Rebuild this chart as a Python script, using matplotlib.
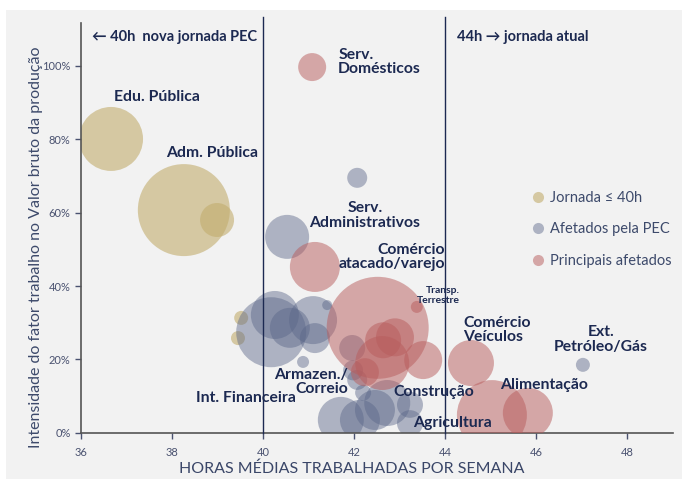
import matplotlib
matplotlib.use("Agg")
import matplotlib.pyplot as plt
from matplotlib.lines import Line2D
from matplotlib.patches import Rectangle

plt.rcParams['font.family'] = ['Lato', 'DejaVu Sans']

# Jornada <= 40h (horas, intensidade %, tamanho)
ouro_x = [36.66, 38.26, 38.99, 39.52, 39.45]
ouro_y = [80.1, 60.7, 58.0, 31.3, 25.8]
ouro_r = [32, 46, 17, 7, 7]

# Afetados pela PEC
cinza_x = [42.07, 40.53, 47.03, 40.18, 40.26, 40.59, 41.10, 41.14, 41.41, 40.88,
           41.96, 41.71, 42.13, 42.46, 42.73, 43.23, 43.23, 42.07, 41.98, 42.20]
cinza_y = [69.5, 53.4, 18.5, 27.4, 32.1, 28.6, 30.7, 25.8, 34.8, 19.3,
           23.1, 3.5, 3.5, 6.2, 8.1, 7.6, 2.6, 14.4, 17.0, 10.9]
cinza_r = [10, 22, 7, 35, 24, 20, 24, 15, 5, 6,
           13, 23, 20, 20, 23, 13, 13, 10, 10, 8]

# Principais afetados
rosa_x = [41.08, 41.14, 42.52, 43.38, 42.64, 42.90, 43.52, 42.62, 42.24, 44.57, 45.03, 45.82]
rosa_y = [99.7, 45.2, 28.6, 34.3, 25.2, 26.0, 19.8, 19.0, 16.5, 19.0, 4.8, 5.4]
rosa_r = [14, 25, 51, 6, 18, 19, 19, 27, 14, 23, 35, 25]

# rotulos dos setores: (texto, x, y, alinhamento)
rotulos = [
    ("Edu. Pública", 36.73, 91.5, 'left'),
    ("Adm. Pública", 37.88, 76.3, 'left'),
    ("Serv.\nDomésticos", 41.65, 101.1, 'left'),
    ("Serv.\nAdministrativos", 42.24, 59.3, 'center'),
    ("Comércio\natacado/varejo", 44.0, 47.9, 'right'),
    ("Comércio\nVeículos", 44.4, 28.0, 'left'),
    ("Ext.\nPetróleo/Gás", 47.43, 25.4, 'center'),
    ("Alimentação", 45.21, 13.0, 'left'),
    ("Construção", 42.86, 11.0, 'left'),
    ("Agricultura", 43.3, 2.6, 'left'),
    ("Armazen./\nCorreio", 41.87, 13.8, 'right'),
    ("Int. Financeira", 40.73, 9.4, 'right'),
]

navy = '#1c2951'
cor_ouro = '#c2ad6e'
cor_cinza = '#5a6688'
cor_rosa = '#b85c5c'

fig = plt.figure(figsize=(6.82, 4.79), dpi=100, facecolor='white')
fig.patches.append(Rectangle((6 / 682, 0), 1, 1 - 10 / 479, transform=fig.transFigure,
                             facecolor='#f2f2f2', edgecolor='none', zorder=-10))
ax = fig.add_axes([81 / 682, 1 - 432.7 / 479, (673 - 81) / 682, (432.7 - 22.7) / 479])
ax.set_facecolor('none')


def tamanho(rs):
    return [(1.44 * r) ** 2 for r in rs]


ax.scatter(ouro_x, ouro_y, s=tamanho(ouro_r), color=cor_ouro, alpha=0.6, edgecolors='none', zorder=2)
ax.scatter(cinza_x, cinza_y, s=tamanho(cinza_r), color=cor_cinza, alpha=0.45, edgecolors='none', zorder=2)
ax.scatter(rosa_x, rosa_y, s=tamanho(rosa_r), color=cor_rosa, alpha=0.5, edgecolors='none', zorder=3)

ax.set_xlim(36, 49.01)
ax.set_ylim(0, 111.8)

# linhas de jornada
for h in [40, 44]:
    ax.plot([h, h], [0, 113.4], color=navy, lw=1.0, clip_on=False, zorder=4)

ax.text(36.24, 107.9, "← 40h  nova jornada PEC", fontsize=10.5, fontweight='bold',
        color=navy, va='center', ha='left')
ax.text(44.26, 107.9, "44h → jornada atual", fontsize=10.5, fontweight='bold',
        color=navy, va='center', ha='left')

for txt, x, y, ha in rotulos:
    ax.text(x, y, txt, fontsize=11.3, fontweight='bold', color=navy, ha=ha, va='center',
            linespacing=1.05, zorder=5, multialignment=ha)
ax.text(44.33, 37.5, "Transp.\nTerrestre", fontsize=7.5, fontweight='bold', color=navy,
        ha='right', va='center', multialignment='right', linespacing=1.1, zorder=5)

ax.set_xticks([36, 38, 40, 42, 44, 46, 48])
ax.set_yticks([0, 20, 40, 60, 80, 100])
ax.set_yticklabels(['0%', '20%', '40%', '60%', '80%', '100%'])
ax.tick_params(labelsize=8, colors='#4a5270', length=4, width=1)
ax.tick_params(axis='x', pad=6)

for s in ['top', 'right']:
    ax.spines[s].set_visible(False)
ax.spines['left'].set_color('#555555')
ax.spines['bottom'].set_color('#555555')
ax.spines['left'].set_linewidth(1.2)
ax.spines['bottom'].set_linewidth(1.2)

ax.set_ylabel("Intensidade do fator trabalho no Valor bruto da produção", fontsize=11.5, color='#3d4a6b')
ax.yaxis.set_label_coords(-0.064, 0.453)
ax.set_xlabel("HORAS MÉDIAS TRABALHADAS POR SEMANA", fontsize=11.5, color='#3a4668')
ax.xaxis.set_label_coords(0.458, -0.071)

handles = [
    Line2D([], [], marker='o', ls='none', markersize=8, color=cor_ouro, alpha=0.6, markeredgewidth=0),
    Line2D([], [], marker='o', ls='none', markersize=8, color=cor_cinza, alpha=0.45, markeredgewidth=0),
    Line2D([], [], marker='o', ls='none', markersize=8, color=cor_rosa, alpha=0.5, markeredgewidth=0),
]
leg = ax.legend(handles, ["Jornada ≤ 40h", "Afetados pela PEC", "Principais afetados"],
                loc='upper left', bbox_to_anchor=(531 / 682, 1 - 191 / 479),
                bbox_transform=fig.transFigure, frameon=False, fontsize=10.5,
                handlelength=1.0, handletextpad=0.3, labelspacing=1.2, borderpad=0,
                borderaxespad=0)
for t in leg.get_texts():
    t.set_color('#3d4a6b')

fig.savefig("out.png", dpi=100, facecolor=fig.get_facecolor())
